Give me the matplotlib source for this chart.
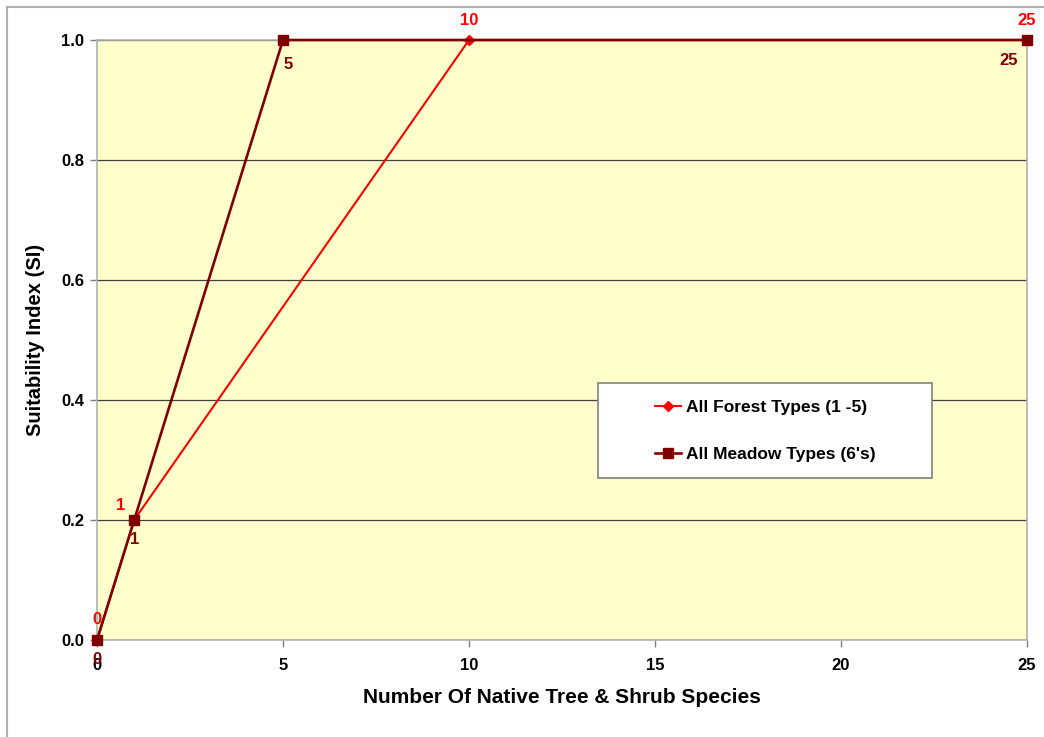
import matplotlib
matplotlib.use('Agg')
import matplotlib.pyplot as plt
from matplotlib.lines import Line2D
from matplotlib.patches import Rectangle

plt.rcParams['font.family'] = ['Liberation Sans', 'DejaVu Sans']

# data
forest_x = [0, 1, 10, 25]
forest_y = [0.0, 0.2, 1.0, 1.0]
meadow_x = [0, 1, 5, 25]
meadow_y = [0.0, 0.2, 1.0, 1.0]
forest_name = 'All Forest Types (1 -5)'
meadow_name = "All Meadow Types (6's)"
xticks = [0, 5, 10, 15, 20, 25]
yticks = [0.0, 0.2, 0.4, 0.6, 0.8, 1.0]

red = '#FF0000'
maroon = '#800000'

fig = plt.figure(figsize=(10.44, 7.37), dpi=100)
ax = fig.add_axes([97/1044, 1 - 640/737, 930/1044, 600/737])
ax.set_facecolor('#FFFFCC')

ax.plot(forest_x, forest_y, color=red, lw=1.5, marker='D', ms=5,
        label=forest_name, zorder=3, clip_on=False)
ax.plot(meadow_x, meadow_y, color=maroon, lw=1.9, marker='s', ms=7,
        label=meadow_name, zorder=4, clip_on=False)

# point labels
for x, y in zip(forest_x, forest_y):
    dx, dy = (-10, 5) if x == 1 else (0, 9)
    ax.annotate(str(x), (x, y), xytext=(dx, dy), textcoords='offset points',
                ha='center', va='bottom', color=red, fontsize=12,
                fontweight='bold', zorder=5, annotation_clip=False)
for x, y in zip(meadow_x, meadow_y):
    if x == 5:
        dx, dy = 4, -12
    elif x == 25:
        dx, dy = -13, -9
    else:
        dx, dy = 0, -9
    ax.annotate(str(x), (x, y), xytext=(dx, dy), textcoords='offset points',
                ha='center', va='top', color=maroon, fontsize=12,
                fontweight='bold', zorder=5, annotation_clip=False)

ax.set_xlim(0, 25)
ax.set_ylim(0, 1.0)
ax.set_xticks(xticks)
ax.set_yticks(yticks)
ax.set_yticklabels(['%.1f' % v for v in yticks])
ax.tick_params(axis='both', labelsize=12, direction='out', length=5,
               color='#808080', width=1)
for lab in ax.get_xticklabels() + ax.get_yticklabels():
    lab.set_fontweight('bold')
ax.tick_params(axis='x', pad=8)
ax.tick_params(axis='y', pad=4)

ax.grid(axis='y', color='#404040', lw=0.9)
ax.set_axisbelow(True)
for s in ax.spines.values():
    s.set_color('#B0B0B0')
    s.set_linewidth(1.2)

ax.set_xlabel('Number Of Native Tree & Shrub Species', fontsize=15,
              fontweight='bold', labelpad=11)
ax.set_ylabel('Suitability Index (SI)', fontsize=14.5, fontweight='bold',
              labelpad=12)

# legend box drawn separately (wide Excel-style padding)
box = Rectangle((0.5387, 0.27), 0.3591, 0.1583, transform=ax.transAxes,
                facecolor='white', edgecolor='#808080', lw=1.2, zorder=6)
ax.add_patch(box)
leg = ax.legend(loc='center', bbox_to_anchor=(0.7183, 0.348), frameon=False,
                prop={'size': 12.5, 'weight': 'bold'}, labelspacing=1.85,
                handlelength=1.5, handletextpad=0.3, borderaxespad=0)
leg.set_zorder(7)

# outer frame (top and left edges visible)
fig.add_artist(Line2D([7/1044, 1], [1 - 7/737, 1 - 7/737], color='#B0B0B0', lw=1.5))
fig.add_artist(Line2D([7/1044, 7/1044], [0, 1 - 7/737], color='#B0B0B0', lw=1.5))

fig.savefig('out.png', dpi=100)
